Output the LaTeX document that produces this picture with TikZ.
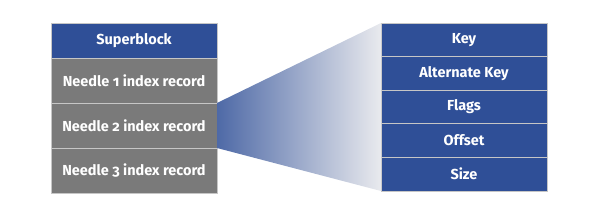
\documentclass[tikz,border=0pt]{standalone}
\usepackage{fontspec}
\setmainfont{Fira Sans}[Numbers=OldStyle]
\usepackage{xcolor}
\usetikzlibrary{positioning}

\definecolor{hayblue}{HTML}{2F4F97}
\definecolor{haygrey}{HTML}{7A7A7A}
\definecolor{haylight}{HTML}{E9EAEE}

\tikzset{
    cell/.style={draw=gray!45, line width=0.8pt, text=white, font=\bfseries\fontsize{14.5}{16}\selectfont,
        minimum width=166pt, inner sep=0pt, outer sep=0pt},
    bluecell/.style={cell, fill=hayblue, minimum height=33.6pt},
    greycell/.style={cell, fill=haygrey, minimum height=45pt}
}

\begin{document}
\begin{tikzpicture}[x=1pt,y=-1pt]
    \useasboundingbox (0,0) rectangle (604,215);

    % left column
    \node[bluecell, minimum height=35pt] (super) at (134,40.5) {Superblock};
    \node[greycell, below=0pt of super] (needle1) {Needle 1 index record};
    \node[greycell, below=0pt of needle1] (needle2) {Needle 2 index record};
    \node[greycell, below=0pt of needle2] (needle3) {Needle 3 index record};

    % right column
    \node[bluecell] (key) at (464,39.8) {Key};
    \node[bluecell, below=0pt of key] (altkey) {Alternate Key};
    \node[bluecell, below=0pt of altkey] (flags) {Flags};
    \node[bluecell, below=0pt of flags] (offset) {Offset};
    \node[bluecell, below=0pt of offset] (size) {Size};

    % zoom wedge
    \shade[left color=hayblue!85, right color=haylight]
        (needle2.north east) -- (key.north west) -- (size.south west) -- (needle2.south east) -- cycle;
\end{tikzpicture}
\end{document}
